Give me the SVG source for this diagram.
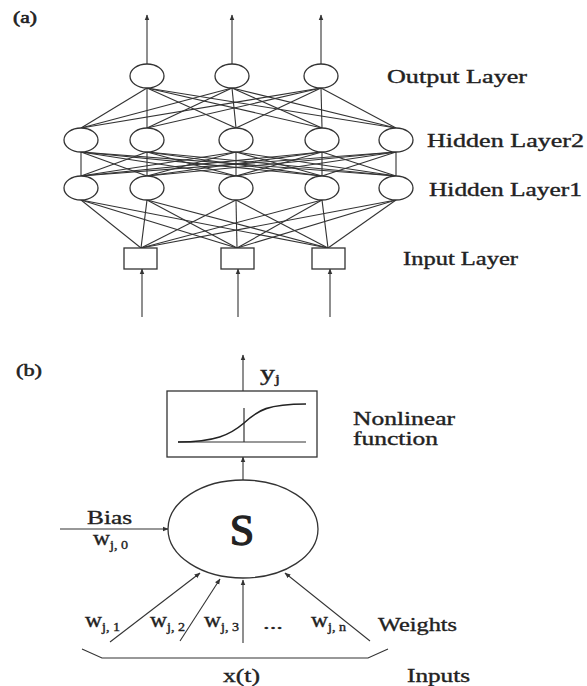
<svg xmlns="http://www.w3.org/2000/svg" width="587" height="686" viewBox="0 0 587 686">
<style>
.t{font-family:"Liberation Serif","Times New Roman",serif;fill:#222;stroke:#222;stroke-width:0.35}
.n{fill:#fff;stroke:#333;stroke-width:1.3}
.c line,.c path{stroke:#333;stroke-width:1.1;fill:none}
</style>
<defs>
<marker id="ah" viewBox="0 0 10 10" refX="9" refY="5" markerWidth="6" markerHeight="6" orient="auto" markerUnits="userSpaceOnUse">
<path d="M0,1 L10,5 L0,9 z" fill="#333"/>
</marker>
</defs>
<rect width="587" height="686" fill="#fff"/>
<text class="t" x="13" y="23" font-size="16" textLength="24" lengthAdjust="spacingAndGlyphs" style="stroke-width:0.6">(a)</text>
<g class="c" id="connectors-a">
<line x1="147" y1="88" x2="81" y2="128"/><line x1="147" y1="88" x2="147" y2="128"/><line x1="147" y1="88" x2="236" y2="128"/><line x1="147" y1="88" x2="322" y2="128"/><line x1="147" y1="88" x2="396" y2="128"/>
<line x1="232" y1="88" x2="81" y2="128"/><line x1="232" y1="88" x2="147" y2="128"/><line x1="232" y1="88" x2="236" y2="128"/><line x1="232" y1="88" x2="322" y2="128"/><line x1="232" y1="88" x2="396" y2="128"/>
<line x1="321" y1="88" x2="81" y2="128"/><line x1="321" y1="88" x2="147" y2="128"/><line x1="321" y1="88" x2="236" y2="128"/><line x1="321" y1="88" x2="322" y2="128"/><line x1="321" y1="88" x2="396" y2="128"/>
<line x1="81" y1="152" x2="81" y2="176"/><line x1="81" y1="152" x2="147" y2="176"/><line x1="81" y1="152" x2="236" y2="176"/><line x1="81" y1="152" x2="322" y2="176"/><line x1="81" y1="152" x2="396" y2="176"/>
<line x1="147" y1="152" x2="81" y2="176"/><line x1="147" y1="152" x2="147" y2="176"/><line x1="147" y1="152" x2="236" y2="176"/><line x1="147" y1="152" x2="322" y2="176"/><line x1="147" y1="152" x2="396" y2="176"/>
<line x1="236" y1="152" x2="81" y2="176"/><line x1="236" y1="152" x2="147" y2="176"/><line x1="236" y1="152" x2="236" y2="176"/><line x1="236" y1="152" x2="322" y2="176"/><line x1="236" y1="152" x2="396" y2="176"/>
<line x1="322" y1="152" x2="81" y2="176"/><line x1="322" y1="152" x2="147" y2="176"/><line x1="322" y1="152" x2="236" y2="176"/><line x1="322" y1="152" x2="322" y2="176"/><line x1="322" y1="152" x2="396" y2="176"/>
<line x1="396" y1="152" x2="81" y2="176"/><line x1="396" y1="152" x2="147" y2="176"/><line x1="396" y1="152" x2="236" y2="176"/><line x1="396" y1="152" x2="322" y2="176"/><line x1="396" y1="152" x2="396" y2="176"/>
<line x1="81" y1="200" x2="141" y2="248"/><line x1="81" y1="200" x2="237" y2="248"/><line x1="81" y1="200" x2="328" y2="248"/>
<line x1="147" y1="200" x2="141" y2="248"/><line x1="147" y1="200" x2="237" y2="248"/><line x1="147" y1="200" x2="328" y2="248"/>
<line x1="236" y1="200" x2="141" y2="248"/><line x1="236" y1="200" x2="237" y2="248"/><line x1="236" y1="200" x2="328" y2="248"/>
<line x1="322" y1="200" x2="141" y2="248"/><line x1="322" y1="200" x2="237" y2="248"/><line x1="322" y1="200" x2="328" y2="248"/>
<line x1="396" y1="200" x2="141" y2="248"/><line x1="396" y1="200" x2="237" y2="248"/><line x1="396" y1="200" x2="328" y2="248"/>
<line x1="147" y1="64" x2="147" y2="15" marker-end="url(#ah)"/>
<line x1="232" y1="64" x2="232" y2="15" marker-end="url(#ah)"/>
<line x1="321" y1="64" x2="321" y2="15" marker-end="url(#ah)"/>
<line x1="142" y1="317" x2="142" y2="269" marker-end="url(#ah)"/>
<line x1="238" y1="317" x2="238" y2="269" marker-end="url(#ah)"/>
<line x1="330" y1="317" x2="330" y2="269" marker-end="url(#ah)"/>
</g>
<g id="out1"><ellipse class="n" cx="147" cy="76" rx="17" ry="12"/></g>
<g id="out2"><ellipse class="n" cx="232" cy="76" rx="17" ry="12"/></g>
<g id="out3"><ellipse class="n" cx="321" cy="76" rx="17" ry="12"/></g>
<g id="h2a"><ellipse class="n" cx="81" cy="140" rx="17" ry="12"/></g>
<g id="h2b"><ellipse class="n" cx="147" cy="140" rx="17" ry="12"/></g>
<g id="h2c"><ellipse class="n" cx="236" cy="140" rx="17" ry="12"/></g>
<g id="h2d"><ellipse class="n" cx="322" cy="140" rx="17" ry="12"/></g>
<g id="h2e"><ellipse class="n" cx="396" cy="140" rx="17" ry="12"/></g>
<g id="h1a"><ellipse class="n" cx="81" cy="188" rx="17" ry="12"/></g>
<g id="h1b"><ellipse class="n" cx="147" cy="188" rx="17" ry="12"/></g>
<g id="h1c"><ellipse class="n" cx="236" cy="188" rx="17" ry="12"/></g>
<g id="h1d"><ellipse class="n" cx="322" cy="188" rx="17" ry="12"/></g>
<g id="h1e"><ellipse class="n" cx="396" cy="188" rx="17" ry="12"/></g>
<g id="in1"><rect class="n" x="124" y="248" width="33" height="21"/></g>
<g id="in2"><rect class="n" x="221" y="248" width="33" height="21"/></g>
<g id="in3"><rect class="n" x="312" y="248" width="33" height="21"/></g>
<text class="t" x="387" y="83" font-size="18" textLength="140" lengthAdjust="spacingAndGlyphs">Output Layer</text>
<text class="t" x="427" y="147" font-size="18" textLength="157" lengthAdjust="spacingAndGlyphs">Hidden Layer2</text>
<text class="t" x="429" y="196" font-size="18" textLength="153" lengthAdjust="spacingAndGlyphs">Hidden Layer1</text>
<text class="t" x="403" y="265" font-size="18" textLength="115" lengthAdjust="spacingAndGlyphs">Input Layer</text>

<text class="t" x="16" y="376" font-size="16" textLength="26" lengthAdjust="spacingAndGlyphs" style="stroke-width:0.5">(b)</text>
<g class="c" id="connectors-b">
<line x1="243" y1="391" x2="243" y2="355" marker-end="url(#ah)"/>
<line x1="243" y1="480" x2="243" y2="457" marker-end="url(#ah)"/>
<line x1="60" y1="529" x2="168" y2="529" marker-end="url(#ah)"/>
<line x1="110" y1="642" x2="200" y2="573" marker-end="url(#ah)"/>
<line x1="180" y1="641" x2="220" y2="579" marker-end="url(#ah)"/>
<line x1="243" y1="643" x2="243" y2="580" marker-end="url(#ah)"/>
<line x1="370" y1="641" x2="285" y2="573" marker-end="url(#ah)"/>
<path d="M82,649 L102,658 L368,658 L388,649"/>
</g>
<g id="nonlinear">
<rect class="n" x="167" y="391" width="150" height="66"/>
<line x1="178" y1="442" x2="306" y2="442" stroke="#333" stroke-width="1.2"/>
<line x1="244" y1="408" x2="244" y2="442" stroke="#333" stroke-width="1.2"/>
<path d="M178,442 C215,442 230,435 244,423 C258,410 268,404 306,404" fill="none" stroke="#222" stroke-width="1.6"/>
</g>
<g id="sum">
<ellipse class="n" cx="243" cy="529" rx="75" ry="49"/>
<text class="t" x="242" y="545" font-size="44" text-anchor="middle" style="stroke-width:1.3">S</text>
</g>
<text class="t" x="260" y="380" font-size="20" textLength="20" lengthAdjust="spacingAndGlyphs">y<tspan font-size="12" dy="3">j</tspan></text>
<text class="t" x="353" y="425" font-size="18" textLength="102" lengthAdjust="spacingAndGlyphs">Nonlinear</text>
<text class="t" x="353" y="445" font-size="18" textLength="85" lengthAdjust="spacingAndGlyphs">function</text>
<text class="t" x="87" y="524" font-size="18" textLength="45" lengthAdjust="spacingAndGlyphs">Bias</text>
<text class="t" x="93" y="545" font-size="20" textLength="35" lengthAdjust="spacingAndGlyphs">w<tspan font-size="12" dy="4">j, 0</tspan></text>
<text class="t" x="85" y="627" font-size="20" textLength="35" lengthAdjust="spacingAndGlyphs">w<tspan font-size="12" dy="4">j, 1</tspan></text>
<text class="t" x="150" y="627" font-size="20" textLength="35" lengthAdjust="spacingAndGlyphs">w<tspan font-size="12" dy="4">j, 2</tspan></text>
<text class="t" x="204" y="627" font-size="20" textLength="35" lengthAdjust="spacingAndGlyphs">w<tspan font-size="12" dy="4">j, 3</tspan></text>
<text class="t" x="263" y="629" font-size="17" textLength="20" lengthAdjust="spacingAndGlyphs">...</text>
<text class="t" x="311" y="627" font-size="20" textLength="35" lengthAdjust="spacingAndGlyphs">w<tspan font-size="12" dy="4">j, n</tspan></text>
<text class="t" x="378" y="631" font-size="18" textLength="79" lengthAdjust="spacingAndGlyphs">Weights</text>
<text class="t" x="223" y="682" font-size="19" textLength="37" lengthAdjust="spacingAndGlyphs">x(t)</text>
<text class="t" x="407" y="682" font-size="18" textLength="63" lengthAdjust="spacingAndGlyphs">Inputs</text>
</svg>
